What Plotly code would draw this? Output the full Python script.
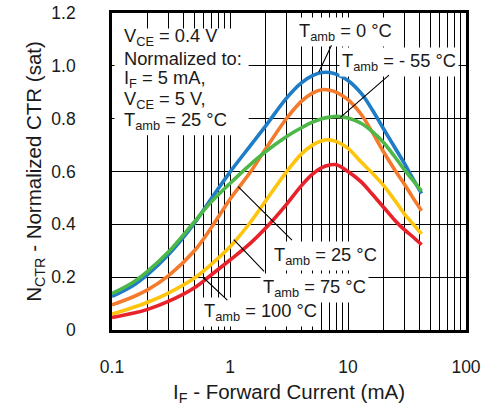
import plotly.graph_objects as go

# Forward current (mA)
i_f = [0.1, 0.15, 0.2, 0.3, 0.5, 0.7, 1, 1.5, 2, 3, 4, 5, 6, 7, 8, 10, 13, 16, 20, 25, 30, 35, 42]

# Normalized CTR per ambient temperature
ctr_0 = [0.127, 0.168, 0.21, 0.285, 0.405, 0.5, 0.598, 0.7, 0.772, 0.877, 0.935, 0.963, 0.975,
         0.975, 0.968, 0.945, 0.895, 0.835, 0.762, 0.69, 0.632, 0.578, 0.517]
ctr_m55 = [0.138, 0.18, 0.222, 0.295, 0.41, 0.487, 0.555, 0.628, 0.675, 0.732, 0.765, 0.787, 0.8,
           0.806, 0.809, 0.803, 0.782, 0.752, 0.71, 0.655, 0.607, 0.57, 0.526]
ctr_25 = [0.095, 0.125, 0.152, 0.205, 0.3, 0.39, 0.495, 0.6, 0.685, 0.8, 0.865, 0.897, 0.91,
          0.908, 0.9, 0.872, 0.815, 0.75, 0.675, 0.605, 0.553, 0.505, 0.452]
ctr_75 = [0.06, 0.085, 0.105, 0.14, 0.197, 0.25, 0.315, 0.41, 0.488, 0.598, 0.665, 0.7, 0.717,
          0.72, 0.713, 0.688, 0.635, 0.595, 0.548, 0.49, 0.44, 0.405, 0.364]
ctr_100 = [0.047, 0.063, 0.078, 0.108, 0.16, 0.21, 0.265, 0.33, 0.385, 0.475, 0.545, 0.59, 0.615,
           0.625, 0.626, 0.6, 0.56, 0.515, 0.465, 0.415, 0.38, 0.355, 0.323]

x_ticks = [0.1, 1, 10, 100]
x_tick_text = ["0.1", "1", "10", "100"]
x_minor = [0.2, 0.3, 0.4, 0.5, 0.6, 0.7, 0.8, 0.9, 2, 3, 4, 5, 6, 7, 8, 9, 20, 30, 40, 50, 60, 70, 80, 90]
y_ticks = [0, 0.2, 0.4, 0.6, 0.8, 1.0, 1.2]
y_tick_text = ["0", "0.2", "0.4", "0.6", "0.8", "1.0", "1.2"]

box_lines = ["V<sub>CE</sub> = 0.4 V", "Normalized to:", "I<sub>F</sub> = 5 mA,",
             "V<sub>CE</sub> = 5 V,", "T<sub>amb</sub> = 25 °C"]

series = [
    (ctr_0, "#1f7cc6"),
    (ctr_25, "#f47a2c"),
    (ctr_m55, "#4db848"),
    (ctr_75, "#ffc50d"),
    (ctr_100, "#e8222a"),
]

FONT = "Liberation Sans, Arial, Helvetica, sans-serif"
TXT = "#1a1a1a"

fig = go.Figure()
for vals, col in series:
    fig.add_trace(go.Scatter(x=i_f, y=vals, mode="lines",
                             line=dict(color=col, width=3.6, shape="spline", smoothing=1.0),
                             showlegend=False, hoverinfo="skip"))

# white backing of the parameter box (hides the grid)
fig.add_shape(type="rect", xref="paper", yref="paper", x0=0.007, x1=0.386, y0=0.614, y1=0.951,
              fillcolor="white", line=dict(width=0), layer="above")

annos = []
for k, t in enumerate(box_lines):
    annos.append(dict(xref="paper", yref="paper", x=0.028, y=0.9228 - k * 0.0661,
                      xanchor="left", yanchor="middle", align="left", showarrow=False,
                      font=dict(size=18.3, color=TXT, family=FONT), text=t))

labels = [
    ("T<sub>amb</sub> = 0 °C", 0.979, 1.129),
    ("T<sub>amb</sub> = - 55 °C", 1.436, 1.014),
    ("T<sub>amb</sub> = 25 °C", 0.809, 0.279),
    ("T<sub>amb</sub> = 75 °C", 0.716, 0.159),
    ("T<sub>amb</sub> = 100 °C", 0.258, 0.070),
]
for t, lx, ly in labels:
    annos.append(dict(xref="x", yref="y", x=lx, y=ly, text=t, showarrow=False,
                      bgcolor="white", borderpad=2,
                      font=dict(size=18.3, color=TXT, family=FONT)))

leaders = [
    (0.866, 1.084, 0.752, 0.976),
    (1.360, 0.970, 0.936, 0.805),
    (0.538, 0.335, 0.069, 0.543),
    (0.301, 0.216, 0.032, 0.342),
    (-0.010, 0.108, -0.222, 0.197),
]
for x1, y1, x2, y2 in leaders:
    annos.append(dict(xref="x", yref="y", axref="x", ayref="y", x=x2, y=y2, ax=x1, ay=y1,
                      text="", showarrow=True, arrowhead=0, arrowwidth=1.1,
                      arrowcolor="black", standoff=0, startstandoff=0))

fig.update_layout(
    width=487, height=406,
    margin=dict(l=112, r=21, t=13, b=76),
    paper_bgcolor="white", plot_bgcolor="white",
    font=dict(family=FONT, color=TXT),
    annotations=annos,
)
fig.update_xaxes(
    type="log", range=[-1, 2], tickvals=x_ticks, ticktext=x_tick_text,
    ticks="", ticklabelstandoff=19, tickfont=dict(size=17.5, color=TXT),
    ticklabeloverflow="allow",
    showgrid=True, gridcolor="black", gridwidth=1.3,
    minor=dict(tickvals=x_minor, showgrid=True, gridcolor="black", gridwidth=1.3, ticks=""),
    showline=True, mirror=True, linecolor="black", linewidth=2.6, zeroline=False,
    title=dict(text="I<sub>F</sub> - Forward Current (mA)", font=dict(size=20.5, color=TXT), standoff=11),
    automargin=False,
)
fig.update_yaxes(
    range=[0, 1.2004], tickvals=y_ticks, ticktext=y_tick_text,
    ticks="", ticklabelstandoff=30, tickfont=dict(size=17.5, color=TXT),
    ticklabeloverflow="allow",
    showgrid=True, gridcolor="black", gridwidth=1.3,
    showline=True, mirror=True, linecolor="black", linewidth=2.6, zeroline=False,
    title=dict(text="N<sub>CTR</sub> - Normalized CTR (sat)", font=dict(size=20.5, color=TXT), standoff=5),
    automargin=False,
)

# remove the page's default body margin so the figure fills the window exactly
fig.write_html("out.html", config={"displayModeBar": False},
               post_script="document.body.style.margin='0';")
